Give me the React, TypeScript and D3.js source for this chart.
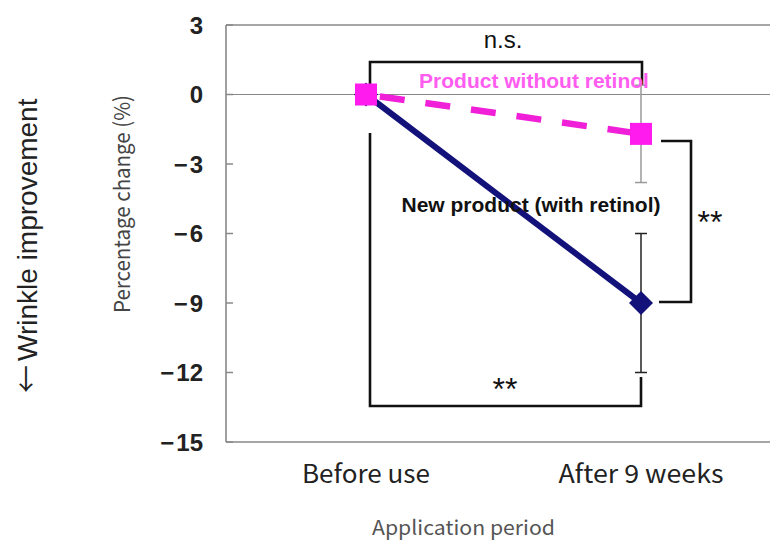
import React from "react";
import * as d3 from "d3";

const categories = ["Before use", "After 9 weeks"];
const newProduct = [0, -9.0];
const newProductErr = [0, 3.0];
const noRetinol = [0, -1.7];
const noRetinolErr = [0, 2.1];
const yTicks = [3, 0, -3, -6, -9, -12, -15];

const W = 770;
const H = 540;

export default function App() {
  const x = d3.scalePoint<string>().domain(categories).range([366, 641]);
  const y = d3.scaleLinear().domain([3, -15]).range([25, 442]);
  const left = 226;
  const right = 770;

  const line = d3
    .line<number>()
    .x((_, i) => x(categories[i]) as number)
    .y((d) => y(d));

  const narrow = "'Liberation Sans Narrow', 'Arial Narrow', 'Liberation Sans', Arial, sans-serif";
  const arial = "'Liberation Sans', Arial, sans-serif";
  const cjk = "'Noto Sans CJK JP', 'Liberation Sans', sans-serif";

  const xB = x(categories[0]) as number;
  const xA = x(categories[1]) as number;
  const catWidths = [128, 165];

  const errBar = (i: number, vals: number[], errs: number[], color: string) => {
    const cx = x(categories[i]) as number;
    if (!errs[i]) return null;
    const top = y(vals[i] + errs[i]);
    const bot = y(vals[i] - errs[i]);
    return (
      <g key={"e" + color + i} stroke={color} strokeWidth={1.5}>
        <line x1={cx} x2={cx} y1={top} y2={bot} />
        <line x1={cx - 6} x2={cx + 6} y1={top} y2={top} />
        <line x1={cx - 6} x2={cx + 6} y1={bot} y2={bot} />
      </g>
    );
  };

  return (
    <div style={{ position: "absolute", left: 0, top: 0 }}>
      <svg width={W} height={H} style={{ display: "block", background: "#fff" }}>
        {/* frame */}
        <g stroke="#888" strokeWidth={1.6} fill="none">
          <line x1={left} x2={right} y1={y(3)} y2={y(3)} />
          <line x1={left} x2={right} y1={y(-15)} y2={y(-15)} />
          <line x1={left} x2={left} y1={y(3)} y2={y(-15)} />
          <line x1={left} x2={right} y1={y(0)} y2={y(0)} strokeWidth={1.2} />
        </g>
        {/* ticks */}
        {yTicks.map((t) => (
          <g key={t}>
            <line x1={left} x2={left + 7} y1={y(t)} y2={y(t)} stroke="#888" strokeWidth={1.5} />
            <text
              x={203}
              y={y(t)}
              dy="0.36em"
              textAnchor="end"
              fontFamily={narrow}
              fontWeight="bold"
              fontSize={24}
              fill="#222"
            >
              {t < 0 ? (
                <>
                  <tspan fontFamily={arial}>{"\u2212"}</tspan>
                  <tspan dx={2}>{Math.abs(t)}</tspan>
                </>
              ) : (
                String(t)
              )}
            </text>
          </g>
        ))}
        {/* x labels */}
        {categories.map((c, i) => (
          <text
            key={c}
            x={(x(c) as number) - catWidths[i] / 2}
            y={483}
            fontFamily={cjk}
            fontSize={25}
            fill="#222"
            textLength={catWidths[i]}
            lengthAdjust="spacingAndGlyphs"
          >
            {c}
          </text>
        ))}
        <text
          x={372}
          y={535}
          fontFamily={cjk}
          fontSize={20}
          fill="#555"
          textLength={183}
          lengthAdjust="spacingAndGlyphs"
        >
          Application period
        </text>
        <text
          transform={`translate(130,313) rotate(-90)`}
          fontFamily={cjk}
          fontSize={22}
          fill="#444"
          textLength={218}
          lengthAdjust="spacingAndGlyphs"
        >
          Percentage change (%)
        </text>
        <text
          transform={`translate(37,393) rotate(-90)`}
          fontFamily={arial}
          fontSize={28}
          fill="#222"
        >
          <tspan fontFamily={cjk}>←</tspan>
          <tspan dx={4}>Wrinkle improvement</tspan>
        </text>

        {/* brackets */}
        <g stroke="#111" strokeWidth={2.6} fill="none">
          <path d={`M${xB + 4},88 V62 H${xA + 1} V86`} />
          <path d={`M${xB + 4},133 V406 H${xA} V377`} />
          <path d={`M661,141 H691 V302 H659`} />
        </g>
        <text x={503} y={48} textAnchor="middle" fontFamily={arial} fontSize={24} fill="#111">
          n.s.
        </text>
        <text x={505} y={400} textAnchor="middle" fontFamily={arial} fontSize={32} fill="#111">
          **
        </text>
        <text x={710} y={233} textAnchor="middle" fontFamily={arial} fontSize={32} fill="#111">
          **
        </text>

        {/* error bars */}
        {errBar(1, noRetinol, noRetinolErr, "#9a9a9a")}
        {errBar(1, newProduct, newProductErr, "#222")}

        {/* lines */}
        <path d={line(newProduct) as string} fill="none" stroke="#12127a" strokeWidth={6} />
        <path
          d={line(noRetinol) as string}
          fill="none"
          stroke="#f01fd8"
          strokeWidth={6.5}
          strokeDasharray="25 21"
          strokeDashoffset={-14}
        />
        {/* markers */}
        {newProduct.map((v, i) => {
          const cx = x(categories[i]) as number;
          const cy = y(v);
          const r = 12;
          return (
            <path
              key={"d" + i}
              d={`M${cx},${cy - r} L${cx + r},${cy} L${cx},${cy + r} L${cx - r},${cy} Z`}
              fill="#12127a"
            />
          );
        })}
        {noRetinol.map((v, i) => {
          const cx = x(categories[i]) as number;
          const cy = y(v);
          return <rect key={"s" + i} x={cx - 11} y={cy - 11} width={22} height={22} fill="#ff1aee" />;
        })}

        {/* series labels */}
        <text x={534} y={88} textAnchor="middle" fontFamily={arial} fontWeight="bold" fontSize={21} fill="#ff5cf0">
          Product without retinol
        </text>
        <text x={531} y={212} textAnchor="middle" fontFamily={arial} fontWeight="bold" fontSize={21} fill="#111">
          New product (with retinol)
        </text>
      </svg>
    </div>
  );
}
